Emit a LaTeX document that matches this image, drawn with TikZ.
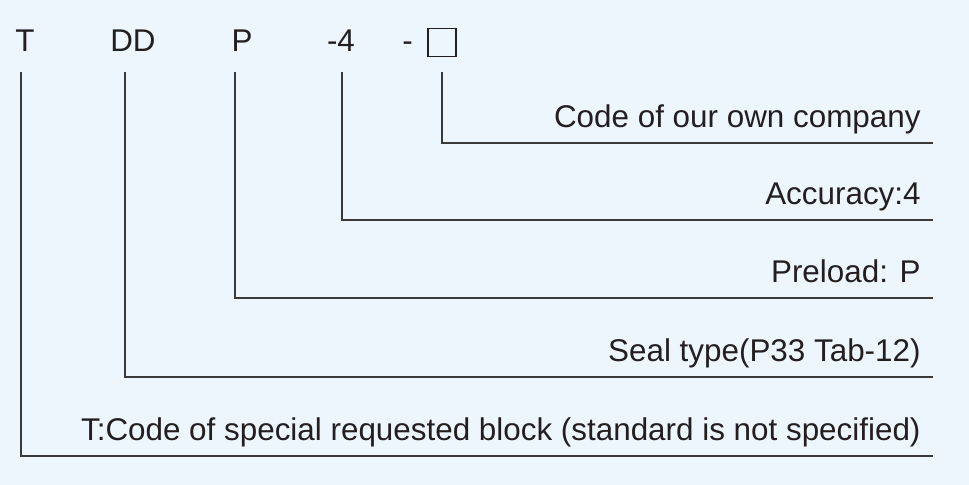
\documentclass[tikz,border=0pt]{standalone}
\usepackage{fontspec}
\setmainfont{Liberation Sans}
\usepackage{xcolor}
\definecolor{pagebg}{HTML}{EEF6FD}
\definecolor{inkdark}{HTML}{231F20}
\definecolor{leadgray}{HTML}{3A3A3A}

\begin{document}
\begin{tikzpicture}[
  x=0.5pt, y=-0.5pt,
  font=\fontsize{15.7}{18}\selectfont,
  codetext/.style={
    text=inkdark,
    inner sep=0pt,
    anchor=base
  },
  desctext/.style={
    text=inkdark,
    inner sep=0pt,
    anchor=base east
  },
  leader/.style={
    draw=leadgray,
    line width=0.55pt
  }
]

  % Background and bounding box
  \fill[pagebg] (0,0) rectangle (969,485);
  \useasboundingbox (0,0) rectangle (969,485);

  % Top row: code fields
  \node[codetext] (cT)   at (25,52)  {T};
  \node[codetext] (cDD)  at (133,52) {DD};
  \node[codetext] (cP)   at (242,52) {P};
  \node[codetext] (cAcc) at (341,52) {-4};
  \node[codetext] (cDash) at (407.5,52) {-};
  \node[draw=inkdark, line width=0.65pt, minimum size=14pt, inner sep=0pt] (cBox) at (442,42.5) {};

  % Start points of the leaders
  \coordinate (sT)   at (21,72);
  \coordinate (sDD)  at (125,72);
  \coordinate (sP)   at (235,72);
  \coordinate (sAcc) at (342,72);
  \coordinate (sBox) at (442,72);

  % End points of the leaders
  \coordinate (eBox) at (933,143);
  \coordinate (eAcc) at (933,220);
  \coordinate (eP)   at (933,298);
  \coordinate (eDD)  at (933,377);
  \coordinate (eT)   at (933,456);

  % Description texts
  \node[desctext] (dBox) at (921,128) {Code of our own company};
  \node[desctext] (dAcc) at (921,205) {Accuracy:4};
  \node[desctext] (dP)   at (921,283) {Preload: P};
  \node[desctext] (dDD)  at (921,362) {Seal type(P33 Tab-12)};
  \node[desctext] (dT)   at (921,441) {T:Code of special requested block (standard is not specified)};

  % Leaders
  \draw[leader] (sBox) |- (eBox);
  \draw[leader] (sAcc) |- (eAcc);
  \draw[leader] (sP)   |- (eP);
  \draw[leader] (sDD)  |- (eDD);
  \draw[leader] (sT)   |- (eT);

\end{tikzpicture}
\end{document}
